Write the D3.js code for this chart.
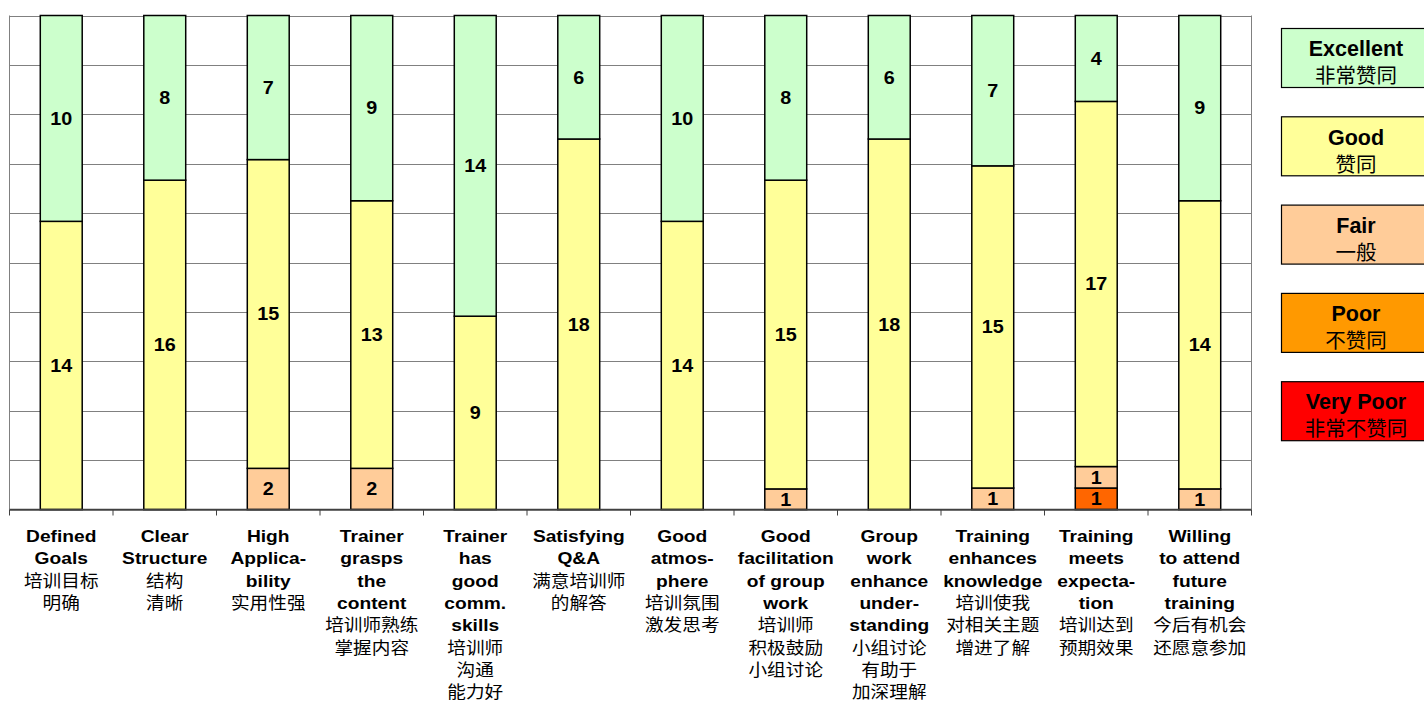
<!DOCTYPE html>
<html><head><meta charset="utf-8">
<script src="https://cdn.jsdelivr.net/npm/d3@7"></script>
<style>body{margin:0;background:#fff;} svg{display:block;}</style>
</head><body>
<svg id="c" width="1424" height="702"></svg>
<script>
const categories = [
  ["Defined","Goals","|培训目标","|明确"],
  ["Clear","Structure","|结构","|清晰"],
  ["High","Applica-","bility","|实用性强"],
  ["Trainer","grasps","the","content","|培训师熟练","|掌握内容"],
  ["Trainer","has","good","comm.","skills","|培训师","|沟通","|能力好"],
  ["Satisfying","Q&A","|满意培训师","|的解答"],
  ["Good","atmos-","phere","|培训氛围","|激发思考"],
  ["Good","facilitation","of group","work","|培训师","|积极鼓励","|小组讨论"],
  ["Group","work","enhance","under-","standing","|小组讨论","|有助于","|加深理解"],
  ["Training","enhances","knowledge","|培训使我","|对相关主题","|增进了解"],
  ["Training","meets","expecta-","tion","|培训达到","|预期效果"],
  ["Willing","to attend","future","training","|今后有机会","|还愿意参加"]
];
const seriesNames = ["Very Poor","Poor","Fair","Good","Excellent"];
const seriesNamesCN = ["非常不赞同","不赞同","一般","赞同","非常赞同"];
const veryPoor  = [0,0,0,0,0,0,0,0,0,0,0,0];
const poor      = [0,0,0,0,0,0,0,0,0,0,1,0];
const fair      = [0,0,2,2,0,0,0,1,0,1,1,1];
const good      = [14,16,15,13,9,18,14,15,18,15,17,14];
const excellent = [10,8,7,9,14,6,10,8,6,7,4,9];
const barColors    = ["#FF0000","#FF6600","#FFCC99","#FFFF99","#CCFFCC"];
const legendColors = ["#FF0000","#FF9900","#FFCC99","#FFFF99","#CCFFCC"];
const yTicks = [0,0.1,0.2,0.3,0.4,0.5,0.6,0.7,0.8,0.9,1.0];

const seriesVals = [veryPoor, poor, fair, good, excellent];
const rows = categories.map((c,i)=>{
  const r = {idx:i};
  seriesNames.forEach((s,k)=>r[s]=seriesVals[k][i]);
  return r;
});
const stacked = d3.stack().keys(seriesNames).offset(d3.stackOffsetExpand)(rows);

const svg = d3.select("#c");
const L = 9.5, R = 1251.5, T = 15.5, B = 509.5;
const SX = 1.13; // horizontal stretch of the original rendering
const x = d3.scaleBand().domain(d3.range(12)).range([L,R]).paddingInner(0.595).paddingOuter(0.2975);
const y = d3.scaleLinear().domain([0,1]).range([B,T]);

// gridlines
svg.append("g").selectAll("line").data(yTicks).join("line")
  .attr("x1",L).attr("x2",R).attr("y1",d=>Math.round(y(d))+0.5).attr("y2",d=>Math.round(y(d))+0.5)
  .attr("stroke","#808080").attr("stroke-width",1);
svg.append("line").attr("x1",L).attr("x2",L).attr("y1",T).attr("y2",B).attr("stroke","#808080");
svg.append("line").attr("x1",R).attr("x2",R).attr("y1",T).attr("y2",B).attr("stroke","#808080");

// bars
const gb = svg.append("g");
stacked.forEach((ser,k)=>{
  gb.append("g").selectAll("rect").data(ser).join("rect")
    .attr("x",(d,i)=>x(i)).attr("width",x.bandwidth())
    .attr("y",d=>y(d[1])).attr("height",d=>Math.max(0,y(d[0])-y(d[1])))
    .attr("fill",barColors[k]).attr("stroke","#000").attr("stroke-width",1.5)
    .attr("display",(d,i)=>seriesVals[k][i]>0?null:"none");
  gb.append("g").selectAll("text").data(ser).join("text")
    .attr("transform",(d,i)=>`translate(${x(i)+x.bandwidth()/2},${(y(d[0])+y(d[1]))/2}) scale(${SX},1)`)
    .attr("dy","0.36em").attr("text-anchor","middle")
    .attr("font-family","Liberation Sans, Arial, sans-serif").attr("font-weight","bold").attr("font-size",17.5)
    .text((d,i)=>seriesVals[k][i]>0?seriesVals[k][i]:"");
});

// x axis
svg.append("line").attr("x1",L).attr("x2",R).attr("y1",B).attr("y2",B).attr("stroke","#404040").attr("stroke-width",1.5);
const tickXs = d3.range(13).map(i=>L+i*(R-L)/12);
svg.append("g").selectAll("line").data(tickXs).join("line")
  .attr("x1",d=>d).attr("x2",d=>d).attr("y1",B).attr("y2",B+6).attr("stroke","#404040").attr("stroke-width",1);

// category labels
const gl = svg.append("g");
categories.forEach((lines,i)=>{
  const cx = x(i)+x.bandwidth()/2;
  const t = gl.append("text").attr("text-anchor","middle")
    .attr("transform",`translate(${cx},0) scale(${SX},1)`);
  lines.forEach((ln,j)=>{
    const cn = ln.startsWith("|");
    t.append("tspan").attr("x",0).attr("y",536+j*22.3)
      .attr("dy", cn ? "0.38em" : "0.36em")
      .attr("font-family", cn ? "Noto Sans CJK SC, sans-serif" : "Liberation Sans, Arial, sans-serif")
      .attr("font-weight", cn ? "normal" : "bold")
      .attr("font-size", cn ? 16.5 : 17)
      .text(cn ? ln.slice(1) : ln);
  });
});

// legend
const legOrder = [4,3,2,1,0];
const lg = svg.append("g");
legOrder.forEach((k,j)=>{
  const y0 = 28.5 + j*88.3;
  lg.append("rect").attr("x",1281.5).attr("y",y0).attr("width",150).attr("height",59)
    .attr("fill",legendColors[k]).attr("stroke","#000").attr("stroke-width",1.2);
  lg.append("text").attr("x",1356).attr("y",y0+20).attr("dy","0.36em").attr("text-anchor","middle")
    .attr("font-family","Liberation Sans, Arial, sans-serif").attr("font-weight","bold").attr("font-size",21.5)
    .text(seriesNames[k]);
  lg.append("text").attr("x",1356).attr("y",y0+47).attr("dy","0.38em").attr("text-anchor","middle")
    .attr("font-family","Noto Sans CJK SC, sans-serif").attr("font-size",20.5)
    .text(seriesNamesCN[k]);
});
</script>
</body></html>
